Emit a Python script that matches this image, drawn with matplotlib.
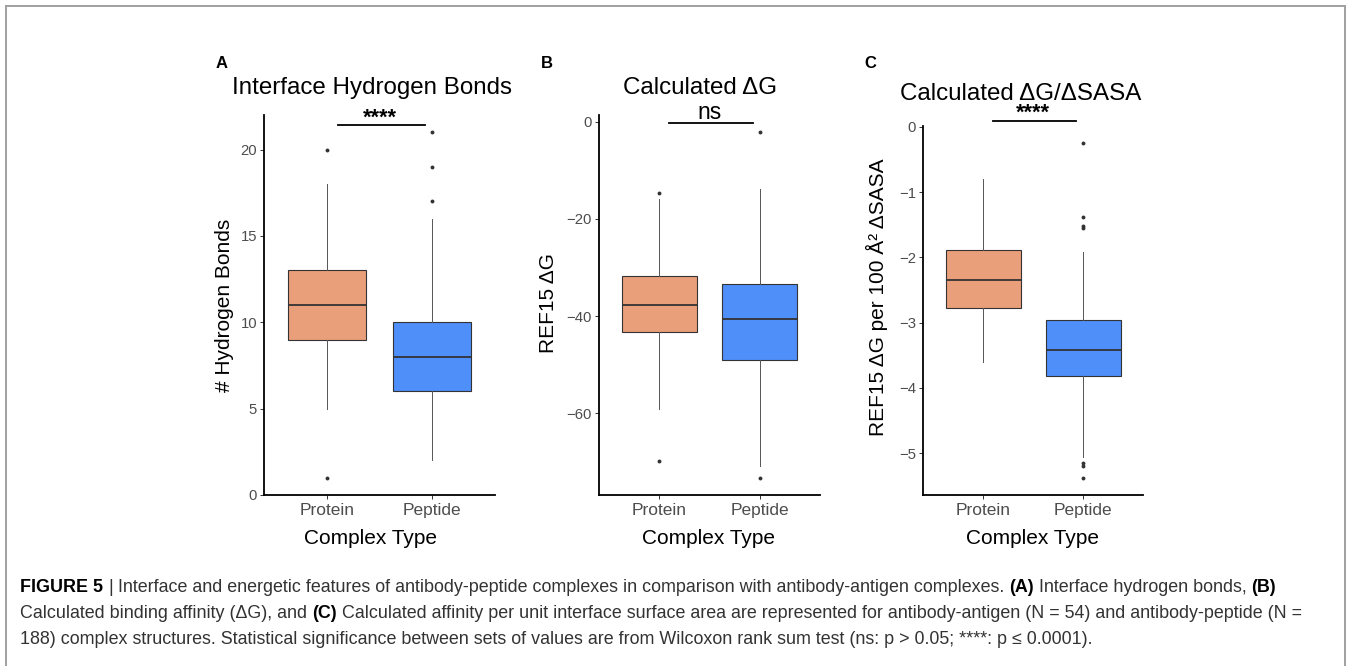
"""
Three box-plot panels comparing antibody-protein and antibody-peptide complexes.
"""

import matplotlib
matplotlib.use("Agg")
import matplotlib.pyplot as plt
from matplotlib.lines import Line2D

plt.rcParams['font.family'] = ['Liberation Sans', 'DejaVu Sans']
plt.rcParams['axes.unicode_minus'] = True

W, H = 1352, 666

groups = ['Protein', 'Peptide']
box_colors = ['#EA9F7B', '#4F8FF9']

# box stats: whisker low, q1, median, q3, whisker high
hbond_protein = [5, 9, 11, 13, 18]
hbond_peptide = [2, 6, 8, 10, 16]
hbond_outliers = [[20, 1], [17, 19, 21]]

dg_protein = [-59.2, -43.3, -37.7, -31.8, -15.9]
dg_peptide = [-70.9, -49.1, -40.6, -33.4, -13.8]
dg_outliers = [[-14.6, -69.9], [-2.1, -73.4]]

ratio_protein = [-3.60, -2.78, -2.35, -1.89, -0.80]
ratio_peptide = [-5.06, -3.82, -3.42, -2.96, -1.92]
ratio_outliers = [[], [-0.25, -1.38, -1.52, -1.55, -5.15, -5.19, -5.38]]

titles = ['Interface Hydrogen Bonds', 'Calculated ΔG', 'Calculated ΔG/ΔSASA']
ylabels = ['# Hydrogen Bonds', 'REF15 ΔG', 'REF15 ΔG per 100 Å² ΔSASA']
panel_letters = ['A', 'B', 'C']
signif_labels = ['****', 'ns', '****']
signif_heights = [21.4, -0.2, 0.09]
yticks = [[0, 5, 10, 15, 20], [0, -20, -40, -60], [0, -1, -2, -3, -4, -5]]
ylims = [(0, 22), (-76.9, 1.44), (-5.64, 0.015)]


def px(x, y):
    """pixel position (top-left origin) -> figure fraction"""
    return x / W, 1 - y / H


def draw_panel(ax, stats_pair, outliers, ylim, ticks, sig_label, sig_y):
    stats = []
    for s, fl in zip(stats_pair, outliers):
        stats.append(dict(whislo=s[0], q1=s[1], med=s[2], q3=s[3], whishi=s[4], fliers=fl))
    bp = ax.bxp(stats, positions=[1, 2], widths=0.75, patch_artist=True, showcaps=False,
                boxprops=dict(edgecolor='#333333', linewidth=0.8),
                whiskerprops=dict(color='#555555', linewidth=0.7),
                medianprops=dict(color='#333333', linewidth=1.3),
                flierprops=dict(marker='o', markersize=2.8, markerfacecolor='#333333',
                                markeredgecolor='none'))
    for patch, c in zip(bp['boxes'], box_colors):
        patch.set_facecolor(c)

    ax.set_xlim(0.4, 2.6)
    ax.set_ylim(*ylim)
    ax.set_xticks([1, 2], groups)
    ax.set_yticks(ticks)
    for side in ['top', 'right']:
        ax.spines[side].set_visible(False)
    for side in ['left', 'bottom']:
        ax.spines[side].set_linewidth(1.3)
    ax.tick_params(axis='both', length=3, width=0.7, color='#333333', labelcolor='#4d4d4d')
    ax.tick_params(axis='x', labelsize=12.5, pad=3)
    ax.tick_params(axis='y', labelsize=10.7, pad=2)

    # significance bar
    ax.plot([1.1, 1.93], [sig_y, sig_y], color='black', lw=1.3, clip_on=False)
    if sig_label == 'ns':
        ax.annotate(sig_label, xy=(1.5, sig_y), xytext=(0, 3), textcoords='offset points',
                    ha='center', va='baseline', fontsize=16.5, annotation_clip=False)
    else:
        ax.annotate(sig_label, xy=(1.5, sig_y), xytext=(0, 1.5), textcoords='offset points',
                    ha='center', va='baseline', fontsize=15.5, fontweight='bold',
                    annotation_clip=False)


fig = plt.figure(figsize=(W / 100, H / 100), dpi=100)

# axes rectangles in pixels: left, top, right, bottom
panel_px = [(264, 115, 495, 495), (599, 115, 820, 495), (923, 126, 1143, 495)]
all_stats = [(hbond_protein, hbond_peptide), (dg_protein, dg_peptide), (ratio_protein, ratio_peptide)]
all_outliers = [hbond_outliers, dg_outliers, ratio_outliers]

title_pos = [(372, 94), (700, 94), (1021, 100)]
letter_pos = [(216, 68), (541, 68), (864, 68)]
ylabel_pos = [(224, 305), (548, 303), (877, 297)]
xlabel_pos = [(371, 544), (708, 544), (1032, 544)]

for i in range(3):
    l, t, r, b = panel_px[i]
    ax = fig.add_axes([l / W, 1 - b / H, (r - l) / W, (b - t) / H])
    draw_panel(ax, all_stats[i], all_outliers[i], ylims[i], yticks[i], signif_labels[i], signif_heights[i])

    fig.text(*px(*title_pos[i]), titles[i], ha='center', va='baseline', fontsize=17.4)
    fig.text(*px(*letter_pos[i]), panel_letters[i], ha='left', va='baseline', fontsize=12,
             fontweight='bold')
    fig.text(*px(*ylabel_pos[i]), ylabels[i], ha='center', va='center', rotation=90, fontsize=15)
    fig.text(*px(*xlabel_pos[i]), 'Complex Type', ha='center', va='baseline', fontsize=15)

# frame around the figure
frame_kw = dict(color='#a0a0a0', lw=1.4, transform=fig.transFigure)
fig.add_artist(Line2D([6 / W, 6 / W], [0, 1 - 6 / H], **frame_kw))
fig.add_artist(Line2D([6 / W, 1345 / W], [1 - 6 / H, 1 - 6 / H], **frame_kw))
fig.add_artist(Line2D([1345 / W, 1345 / W], [0, 1 - 6 / H], **frame_kw))

# caption, written piece by piece so the bold parts sit inline
caption_fonts = ['Liberation Sans', 'DejaVu Sans']
caption_size = 12.9
caption_lines = [
    [('FIGURE 5', True), ('|', False),
     ('Interface and energetic features of antibody-peptide complexes in comparison with '
      'antibody-antigen complexes.', False),
     ('(A)', True), ('Interface hydrogen bonds,', False), ('(B)', True)],
    [('Calculated binding affinity (ΔG), and', False), ('(C)', True),
     ('Calculated affinity per unit interface surface area are represented for antibody-antigen '
      '(N = 54) and antibody-peptide (N =', False)],
    [('188) complex structures. Statistical significance between sets of values are from '
      'Wilcoxon rank sum test (ns: p > 0.05; ****: p ≤ 0.0001).', False)],
]
caption_baselines = [592, 618, 644]

renderer = fig.canvas.get_renderer()
probe_a = fig.text(0, 0, 'x x', fontsize=caption_size, family=caption_fonts)
probe_b = fig.text(0, 0, 'xx', fontsize=caption_size, family=caption_fonts)
space_w = probe_a.get_window_extent(renderer).width - probe_b.get_window_extent(renderer).width
probe_a.remove()
probe_b.remove()

for parts, yb in zip(caption_lines, caption_baselines):
    x = 20
    for s, bold in parts:
        txt = fig.text(*px(x, yb), s, fontsize=caption_size, family=caption_fonts,
                       fontweight='bold' if bold else 'normal',
                       color='black' if bold else '#333333', ha='left', va='baseline')
        x = txt.get_window_extent(renderer).x1 + space_w

fig.savefig('out.png', dpi=100)
